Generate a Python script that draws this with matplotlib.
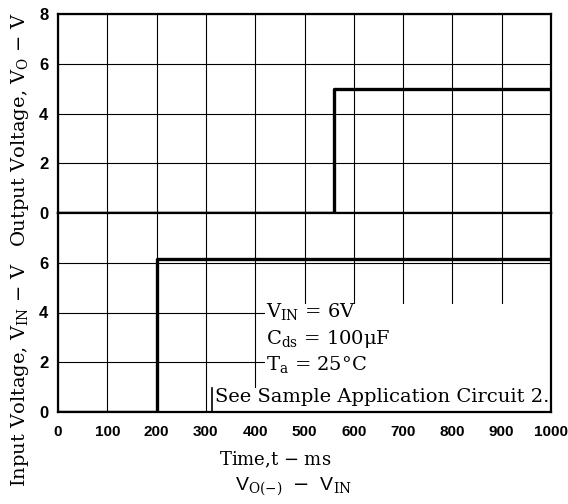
import matplotlib
matplotlib.use("Agg")
import matplotlib.pyplot as plt
from matplotlib.patches import Rectangle

plt.rcParams['font.family'] = ['DejaVu Serif']
plt.rcParams['mathtext.fontset'] = 'dejavuserif'

# Step responses (ms, V)
vo_time = [0, 560, 1000]
vo_volts = [0, 5.0, 5.0]
vin_time = [0, 200, 1000]
vin_volts = [0, 6.15, 6.15]

x_ticks = [0, 100, 200, 300, 400, 500, 600, 700, 800, 900, 1000]
vo_ticks = [0, 2, 4, 6, 8]
vin_ticks = [0, 2, 4, 6]

fig = plt.figure(figsize=(5.68, 5.04), dpi=100)
left, right = 58 / 568, 551 / 568
top, mid, bot = 1 - 14 / 504, 1 - 213 / 504, 1 - 412 / 504
ax_o = fig.add_axes([left, mid, right - left, top - mid])
ax_i = fig.add_axes([left, bot, right - left, mid - bot])

tick_font = dict(family='Liberation Sans', weight='bold', size=11)

for ax, ticks in ((ax_o, vo_ticks), (ax_i, vin_ticks)):
    ax.set_xlim(0, 1000)
    ax.set_ylim(0, 8)
    ax.set_xticks(x_ticks)
    ax.set_yticks(ticks)
    ax.grid(True, color='black', linewidth=0.8)
    ax.set_axisbelow(True)
    ax.tick_params(length=0, pad=7)
    for s in ax.spines.values():
        s.set_linewidth(1.6)
    for lab in ax.get_yticklabels():
        lab.set_fontproperties(tick_font)
        lab.set_fontsize(12)

ax_o.tick_params(labelbottom=False)
for lab in ax_i.get_xticklabels():
    lab.set_fontproperties(tick_font)
ax_i.tick_params(axis='x', pad=9)

ax_o.plot(vo_time, vo_volts, drawstyle='steps-post', color='black', linewidth=2.4, zorder=3)
ax_i.plot(vin_time, vin_volts, drawstyle='steps-post', color='black', linewidth=2.4, zorder=3)

# white area behind the condition notes
ax_i.add_patch(Rectangle((420, 0.95), 580, 3.4, facecolor='white', edgecolor='none', zorder=1.5))
ax_i.add_patch(Rectangle((313, 0), 687, 0.97, facecolor='white', edgecolor='none', zorder=1.5))
ax_i.plot([313, 313], [0, 0.97], color='black', linewidth=1.2, zorder=2)

note_kw = dict(fontsize=14, ha='left', va='center', zorder=4)
ax_i.text(422, 4.05, r'V$_{\rm IN}$ = 6V', **note_kw)
ax_i.text(422, 2.95, r'C$_{\rm ds}$ = 100μF', **note_kw)
ax_i.text(422, 1.9, r'T$_{\rm a}$ = 25°C', **note_kw)
ax_i.text(318, 0.62, 'See Sample Application Circuit 2.', **note_kw)

fig.text(20 / 568, 1 - 130 / 504, r'Output Voltage, V$_{\rm O}$ $-$ V', rotation=90,
         ha='center', va='center', fontsize=14)
fig.text(20 / 568, 1 - 375 / 504, r'Input Voltage, V$_{\rm IN}$ $-$ V', rotation=90,
         ha='center', va='center', fontsize=14)
fig.text(275 / 568, 1 - 460 / 504, r'Time,t $-$ ms', ha='center', va='center', fontsize=13)
fig.text(293 / 568, 1 - 487 / 504, r'V$_{\rm O(-)}$  $-$  V$_{\rm IN}$', ha='center', va='center',
         fontsize=14, family='Liberation Sans')

fig.savefig('out.png', dpi=100)
